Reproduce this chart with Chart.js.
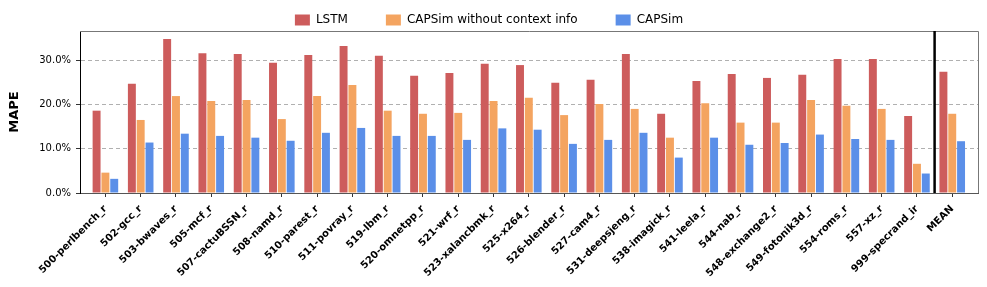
<!DOCTYPE html>
<html>
<head>
<meta charset="utf-8">
<script src="https://cdn.jsdelivr.net/npm/chart.js@4"></script>
<style>
  html, body { margin: 0; padding: 0; background: #fff; }
  #wrap { width: 987px; height: 287px; }
</style>
</head>
<body>
<div id="wrap"><canvas id="mapeChart"></canvas></div>
<script>
// benchmarks, last one is the mean of all
var benchmarks = ["500-perlbench_r", "502-gcc_r", "503-bwaves_r", "505-mcf_r", "507-cactuBSSN_r",
  "508-namd_r", "510-parest_r", "511-povray_r", "519-lbm_r", "520-omnetpp_r", "521-wrf_r",
  "523-xalancbmk_r", "525-x264_r", "526-blender_r", "527-cam4_r", "531-deepsjeng_r",
  "538-imagick_r", "541-leela_r", "544-nab_r", "548-exchange2_r", "549-fotonik3d_r",
  "554-roms_r", "557-xz_r", "999-specrand_ir", "MEAN"];

var lstm = [18.6, 24.7, 34.8, 31.6, 31.4, 29.4, 31.2, 33.2, 31.0, 26.5, 27.1, 29.2, 28.9,
  24.9, 25.6, 31.4, 17.9, 25.3, 26.9, 26.0, 26.7, 30.3, 30.3, 17.4, 27.4];
var capsimNoCtx = [4.6, 16.5, 21.9, 20.8, 21.0, 16.7, 21.9, 24.4, 18.6, 17.9, 18.1, 20.8, 21.5,
  17.6, 20.1, 19.0, 12.5, 20.3, 15.9, 15.9, 21.0, 19.7, 19.0, 6.6, 17.9];
var capsim = [3.2, 11.4, 13.4, 12.9, 12.5, 11.8, 13.6, 14.7, 12.9, 12.9, 12.0, 14.6, 14.3,
  11.1, 12.0, 13.6, 8.0, 12.5, 10.9, 11.3, 13.2, 12.2, 12.0, 4.4, 11.7];

var yTicks = [0, 10, 20, 30];

function toPoints(arr) {
  return arr.map(function (v, i) { return { x: i, y: v }; });
}

// box around the plot + line that separates MEAN
var framePlugin = {
  id: "frame",
  afterDatasetsDraw: function (chart) {
    var ctx = chart.ctx;
    var a = chart.chartArea;
    ctx.save();
    ctx.strokeStyle = "#777";
    ctx.lineWidth = 1;
    ctx.beginPath();
    ctx.moveTo(a.left, a.top + 0.5);
    ctx.lineTo(a.right + 0.5, a.top + 0.5);
    ctx.lineTo(a.right + 0.5, a.bottom);
    ctx.stroke();
    var xs = chart.scales.x.getPixelForValue(benchmarks.length - 1.5);
    ctx.strokeStyle = "#000";
    ctx.lineWidth = 2.5;
    ctx.beginPath();
    ctx.moveTo(xs, a.top);
    ctx.lineTo(xs, a.bottom);
    ctx.stroke();
    ctx.restore();
  }
};

var ctx = document.getElementById("mapeChart");
var mapeChart = new Chart(ctx, {
  type: "bar",
  data: {
    datasets: [
      { label: "LSTM", data: toPoints(lstm), backgroundColor: "#CD5C5C" },
      { label: "CAPSim without context info", data: toPoints(capsimNoCtx), backgroundColor: "#F4A460" },
      { label: "CAPSim", data: toPoints(capsim), backgroundColor: "#5B8FE8" }
    ]
  },
  options: {
    responsive: true,
    maintainAspectRatio: false,
    animation: false,
    devicePixelRatio: 1,
    layout: { padding: { top: -24, right: 9, left: 0, bottom: 0 } },
    datasets: { bar: { categoryPercentage: 0.75, barPercentage: 0.9 } },
    plugins: {
      tooltip: { enabled: false },
      legend: {
        position: "top",
        maxHeight: 55,
        labels: {
          color: "#000",
          font: { family: "DejaVu Sans", size: 12 },
          boxWidth: 15,
          boxHeight: 11,
          padding: 38
        }
      }
    },
    scales: {
      x: {
        type: "linear",
        offset: false,
        min: -0.72,
        max: benchmarks.length - 0.27,
        afterBuildTicks: function (axis) {
          axis.ticks = benchmarks.map(function (b, i) { return { value: i }; });
        },
        afterFit: function (axis) { axis.height = 94; },
        grid: { offset: false, drawOnChartArea: false, drawTicks: true, tickLength: 4, tickColor: "#333" },
        border: { display: true, color: "#555", width: 1 },
        ticks: {
          autoSkip: false,
          maxRotation: 45,
          minRotation: 45,
          padding: 6,
          color: "#000",
          font: { family: "DejaVu Sans", size: 10, weight: "bold" },
          callback: function (v) { return benchmarks[v]; }
        }
      },
      y: {
        min: 0,
        max: 36.6,
        afterBuildTicks: function (axis) {
          axis.ticks = yTicks.map(function (t) { return { value: t }; });
        },
        afterFit: function (axis) { axis.width = 80; },
        grid: {
          color: function (c) { return c.tick && c.tick.value === 0 ? "rgba(0,0,0,0)" : "#b0b0b0"; },
          tickColor: "#333",
          tickLength: 4,
          tickBorderDash: []
        },
        border: { display: true, color: "#000", width: 1, dash: [4, 3] },
        ticks: {
          color: "#000",
          padding: 5,
          font: { family: "DejaVu Sans", size: 10 },
          callback: function (v) { return v.toFixed(1) + "%"; }
        },
        title: {
          display: true,
          text: "MAPE",
          color: "#000",
          font: { family: "DejaVu Sans", size: 13, weight: "bold" },
          padding: { top: 7, bottom: 0 }
        }
      }
    }
  },
  plugins: [framePlugin]
});
</script>
</body>
</html>
